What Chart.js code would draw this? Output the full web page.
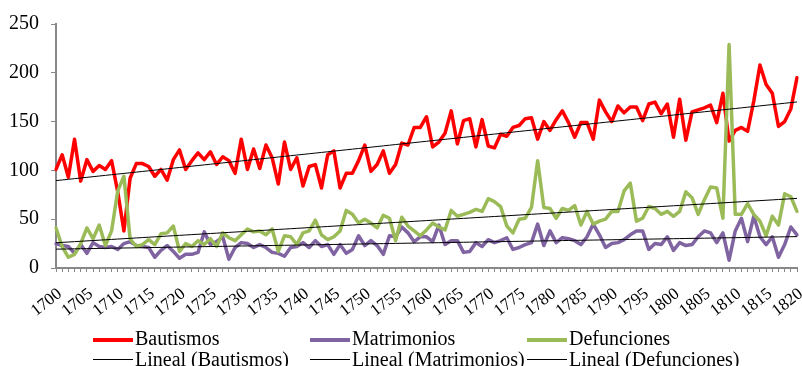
<!DOCTYPE html>
<html>
<head>
<meta charset="utf-8">
<script src="https://cdn.jsdelivr.net/npm/chart.js@4.4.1/dist/chart.umd.min.js"></script>
<style>
    html, body { margin: 0; padding: 0; background: #fff; }
    #wrap { position: relative; width: 802px; height: 366px; overflow: hidden; }
    #chart { position: absolute; left: 0; top: 0; }
    .leg {
        position: absolute;
        font-family: 'Liberation Serif', 'Times New Roman', serif;
        font-size: 20px;
        color: #000;
        white-space: nowrap;
        line-height: 20px;
    }
    .leg span.swatch { position: absolute; left: 0; width: 40px; }
    .leg span.txt { position: absolute; left: 42px; top: 0; }
</style>
</head>
<body>
<div id="wrap">
    <canvas id="chart" width="802" height="366"></canvas>
    <div class="leg" style="left:93px; top:328px;"><span class="swatch" style="top:10px; height:4px; background:#FF0000;"></span><span class="txt">Bautismos</span></div>
    <div class="leg" style="left:310px; top:328px;"><span class="swatch" style="top:10px; height:4px; background:#8064A2;"></span><span class="txt">Matrimonios</span></div>
    <div class="leg" style="left:527px; top:328px;"><span class="swatch" style="top:10px; height:4px; background:#9BBB59;"></span><span class="txt">Defunciones</span></div>
    <div class="leg" style="left:93px; top:349px;"><span class="swatch" style="top:10px; height:1px; background:#000;"></span><span class="txt">Lineal (Bautismos)</span></div>
    <div class="leg" style="left:310px; top:349px;"><span class="swatch" style="top:10px; height:1px; background:#000;"></span><span class="txt">Lineal (Matrimonios)</span></div>
    <div class="leg" style="left:527px; top:349px;"><span class="swatch" style="top:10px; height:1px; background:#000;"></span><span class="txt">Lineal (Defunciones)</span></div>
</div>
<script>
const serif = "'Liberation Serif', 'Times New Roman', serif";

// Years on the x axis, one per point
const years = [];
for (let y = 1700; y <= 1820; y++) years.push(y);

// Yearly counts 1700-1820
const bautismos = [
    101, 116, 93, 132, 89, 111, 99, 105, 101, 110,
    78, 38, 92, 107, 107, 104, 94, 101, 90, 111,
    121, 101, 110, 118, 111, 119, 106, 114, 110, 97,
    132, 101, 122, 102, 126, 113, 86, 129, 101, 113,
    84, 104, 106, 82, 116, 120, 82, 97, 97, 110,
    126, 99, 106, 120, 97, 106, 128, 126, 144, 144,
    155, 124, 129, 138, 161, 127, 151, 153, 124, 152,
    125, 123, 137, 135, 144, 146, 153, 154, 132, 150,
    141, 152, 161, 149, 134, 149, 149, 132, 172, 160,
    150, 166, 159, 165, 165, 151, 168, 170, 158, 168,
    134, 173, 131, 160, 162, 164, 167, 149, 179, 130,
    141, 144, 140, 171, 208, 188, 179, 145, 150, 163, 195
];

const matrimonios = [
    25, 23, 22, 15, 24, 15, 26, 22, 21, 22,
    19, 25, 27, 23, 22, 21, 11, 18, 23, 17,
    10, 14, 14, 16, 37, 24, 27, 32, 9, 21,
    26, 25, 21, 24, 21, 16, 15, 12, 21, 22,
    26, 21, 28, 22, 24, 14, 24, 15, 19, 33,
    23, 28, 23, 14, 33, 32, 42, 36, 27, 32,
    32, 27, 44, 24, 28, 28, 16, 17, 26, 22,
    29, 26, 28, 31, 19, 21, 24, 26, 45, 23,
    38, 26, 31, 30, 28, 24, 32, 45, 34, 21,
    25, 26, 29, 34, 38, 38, 19, 25, 24, 32,
    18, 26, 23, 24, 32, 38, 36, 26, 36, 8,
    38, 51, 27, 53, 32, 24, 32, 11, 24, 42, 34
];

const defunciones = [
    41, 22, 11, 14, 25, 41, 30, 44, 23, 38,
    79, 94, 30, 22, 24, 29, 24, 35, 36, 43,
    17, 25, 22, 28, 24, 30, 22, 36, 31, 28,
    34, 40, 37, 38, 34, 40, 17, 33, 32, 24,
    36, 38, 49, 34, 29, 32, 38, 59, 55, 46,
    50, 46, 41, 54, 51, 28, 52, 43, 38, 33,
    39, 46, 42, 39, 59, 53, 55, 57, 60, 58,
    71, 68, 63, 43, 36, 50, 51, 62, 110, 62,
    61, 51, 61, 59, 64, 44, 58, 45, 48, 50,
    58, 58, 79, 87, 48, 51, 63, 61, 55, 58,
    53, 58, 78, 72, 55, 70, 83, 82, 51, 229,
    55, 55, 66, 55, 48, 33, 53, 44, 76, 73, 58
];

const yTicks = [0, 50, 100, 150, 200, 250];

// Least-squares trend, like a spreadsheet "linear" trendline
function trend(values) {
    const n = values.length;
    let sx = 0, sy = 0, sxy = 0, sxx = 0;
    values.forEach((v, i) => { sx += i; sy += v; sxy += i * v; sxx += i * i; });
    const b = (n * sxy - sx * sy) / (n * sxx - sx * sx);
    const a = (sy - b * sx) / n;
    return values.map((_, i) => a + b * i);
}

const series = (label, data, color, order) => ({
    label, data, order,
    borderColor: color,
    borderWidth: 3.5,
    borderJoinStyle: 'round',
    borderCapStyle: 'round',
    pointRadius: 0,
    fill: false
});

const trendLine = (label, data) => ({
    label, data, order: 0,
    borderColor: '#000',
    borderWidth: 1,
    pointRadius: 0,
    fill: false
});

new Chart(document.getElementById('chart'), {
    type: 'line',
    data: {
        labels: years,
        datasets: [
            series('Bautismos', bautismos, '#FF0000', 3),
            series('Matrimonios', matrimonios, '#8064A2', 2),
            series('Defunciones', defunciones, '#9BBB59', 1),
            trendLine('Lineal (Bautismos)', trend(bautismos)),
            trendLine('Lineal (Matrimonios)', trend(matrimonios)),
            trendLine('Lineal (Defunciones)', trend(defunciones))
        ]
    },
    options: {
        responsive: false,
        animation: false,
        layout: { padding: { top: 15, right: 5, bottom: 38, left: 0 } },
        plugins: {
            legend: { display: false },
            tooltip: { enabled: false }
        },
        elements: { line: { tension: 0 } },
        scales: {
            x: {
                grid: { drawOnChartArea: false, tickLength: 4, color: '#888', lineWidth: 1 },
                border: { color: '#888', width: 2 },
                ticks: {
                    autoSkip: false,
                    maxRotation: 38,
                    minRotation: 38,
                    padding: 12,
                    labelOffset: 4,
                    color: '#000',
                    font: { family: serif, size: 17 },
                    callback: (v, i) => (years[i] % 5 === 0 ? String(years[i]) : '')
                },
                // fixed axis band so the plot area lines up with the legend below
                afterFit: (s) => {
                    s.height = 60;
                    s.paddingLeft = 0;
                    s.paddingRight = 0;
                }
            },
            y: {
                min: 0,
                max: 250,
                afterBuildTicks: (s) => { s.ticks = yTicks.map(v => ({ value: v })); },
                grid: { drawOnChartArea: false, tickLength: 5, color: '#888' },
                border: { color: '#888', width: 2 },
                ticks: {
                    padding: 12,
                    color: '#000',
                    font: { family: serif, size: 20 }
                },
                afterFit: (s) => { s.width = 56; }
            }
        }
    }
});
</script>
</body>
</html>
